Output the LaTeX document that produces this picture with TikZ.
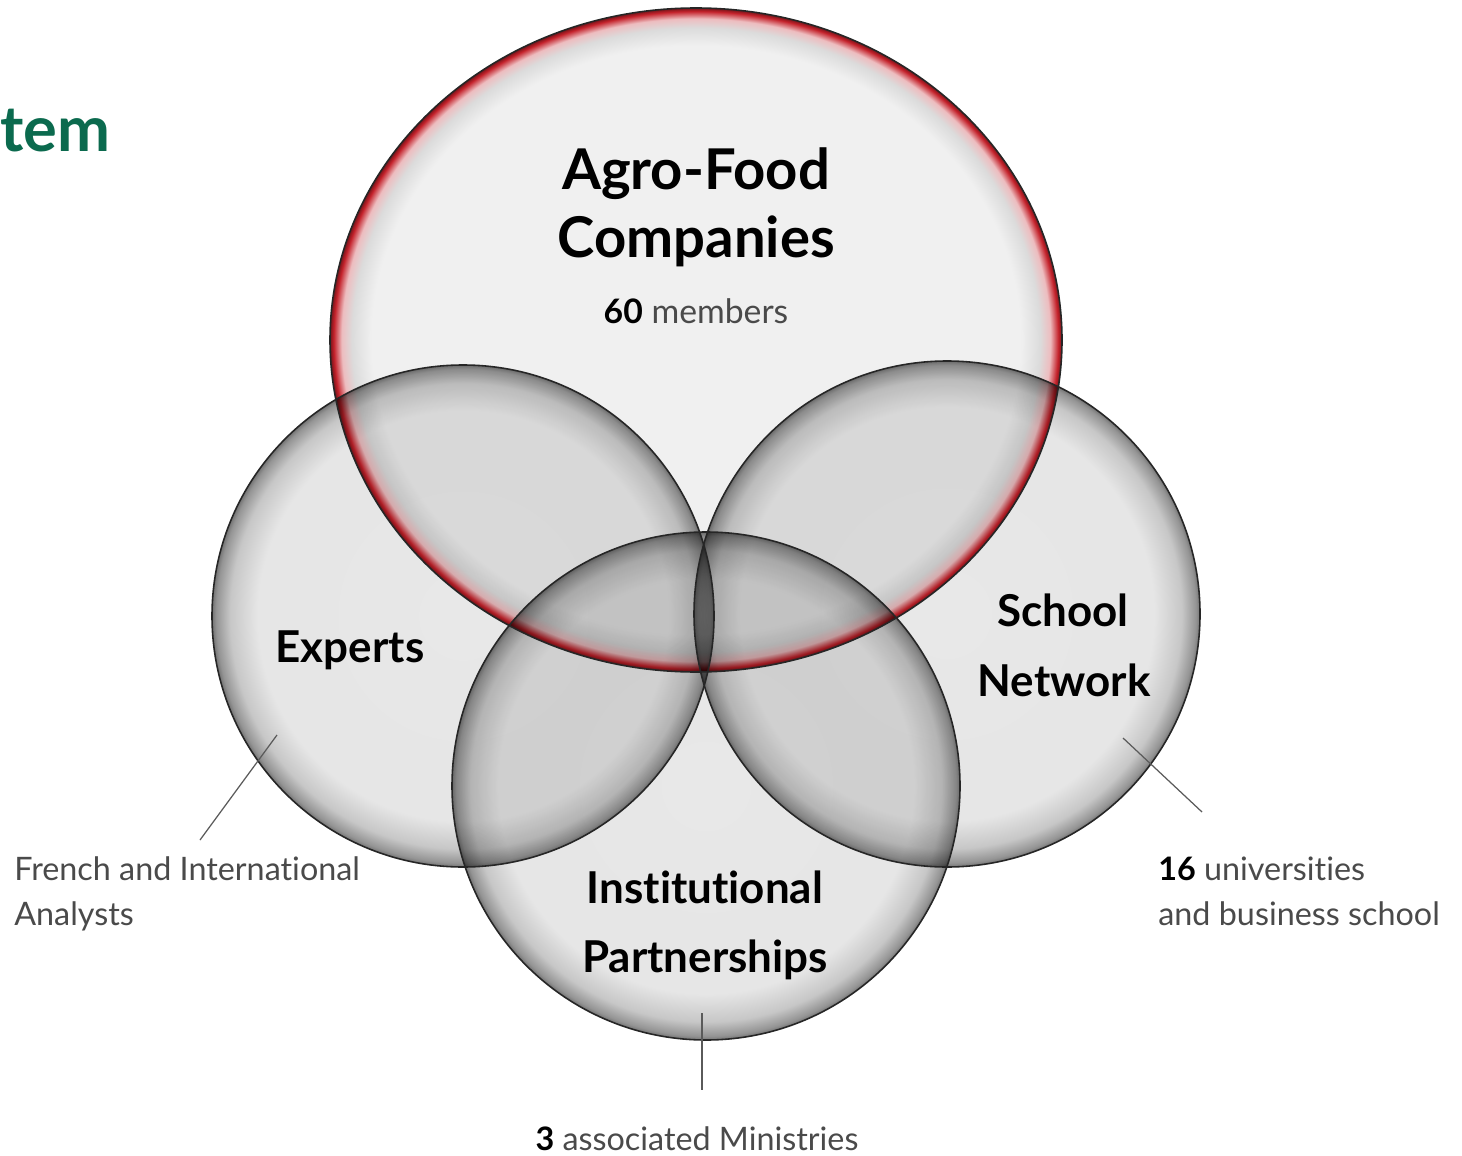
\documentclass[tikz,border=0pt]{standalone}
\usepackage{fontspec}
\setmainfont{Lato}[Ligatures=NoCommon]
\definecolor{titlegreen}{HTML}{0B6A4E}
\definecolor{notegray}{HTML}{4A4A4A}
\definecolor{leadergray}{HTML}{5A5A5A}
\definecolor{rimred}{HTML}{C4222B}
\pgfdeclareradialshading{agrorim}{\pgfpoint{0bp}{0bp}}{color(0bp)=(white!94!black); color(22.2bp)=(white!94!black); color(23.5bp)=(white!86!black); color(24.2bp)=(rimred!30!white); color(24.75bp)=(rimred); color(25bp)=(rimred!60!black); color(50bp)=(rimred!60!black)}
\pgfdeclareradialshading{grayrim}{\pgfpoint{0bp}{0bp}}{color(0bp)=(white!91!black); color(20.5bp)=(white!90!black); color(23.2bp)=(white!78!black); color(24.6bp)=(white!58!black); color(25bp)=(white!45!black); color(50bp)=(white!45!black)}
\begin{document}
\begin{tikzpicture}[x=0.02cm, y=-0.02cm,
    bigname/.style={font=\fontsize{32}{38}\selectfont\bfseries, anchor=base, inner sep=0pt},
    setname/.style={font=\fontsize{25}{30}\selectfont\bfseries, anchor=base, inner sep=0pt},
    note/.style={font=\fontsize{18.4}{22}\selectfont, text=notegray, anchor=base west, inner sep=0pt},
    rimline/.style={draw=black!85, line width=0.9pt},
    leader/.style={draw=leadergray, line width=0.7pt}]
    \useasboundingbox (0,0) rectangle (1462,1155);

    \shade[shading=agrorim, blend mode=multiply] (696,340) ellipse [x radius=366, y radius=332];
    \shade[shading=grayrim, blend mode=multiply] (463,616) circle (251);
    \shade[shading=grayrim, blend mode=multiply] (947,614) circle (253);
    \shade[shading=grayrim, blend mode=multiply] (706,786) circle (254);
    \draw[rimline] (696,340) ellipse [x radius=366, y radius=332];
    \draw[rimline] (463,616) circle (251);
    \draw[rimline] (947,614) circle (253);
    \draw[rimline] (706,786) circle (254);

    \node[font=\fontsize{36}{40}\selectfont\bfseries, text=titlegreen, anchor=base west, inner sep=0pt] (title) at (0,152) {tem};

    \node[bigname] (agro1) at (696,190) {Agro-Food};
    \node[bigname] (agro2) at (696,257) {Companies};
    \node[note, anchor=base, font=\fontsize{19.2}{22}\selectfont] (agronote) at (696,323) {\textcolor{black}{\bfseries 60} members};

    \node[setname] (experts) at (350,662) {Experts};
    \node[setname] (school1) at (1063,626) {School};
    \node[setname] (school2) at (1064,696) {Network};
    \node[setname] (inst1) at (705,903) {Institutional};
    \node[setname] (inst2) at (705,972) {Partnerships};

    \node[note] (expnote1) at (14,880) {French and International};
    \node[note] (expnote2) at (14,925) {Analysts};
    \node[note] (schnote1) at (1158,880) {\textcolor{black}{\bfseries 16} universities};
    \node[note] (schnote2) at (1158,925) {and business school};
    \node[note, anchor=base] (instnote) at (697,1150) {\textcolor{black}{\bfseries 3} associated Ministries};

    \coordinate (expin) at (277,735);
    \coordinate (expout) at (200,840);
    \coordinate (schin) at (1123,738);
    \coordinate (schout) at (1202,812);
    \coordinate (instin) at (702,1013);
    \coordinate (instout) at (702,1090);
    \draw[leader] (expin) -- (expout);
    \draw[leader] (schin) -- (schout);
    \draw[leader] (instin) -- (instout);
\end{tikzpicture}
\end{document}
